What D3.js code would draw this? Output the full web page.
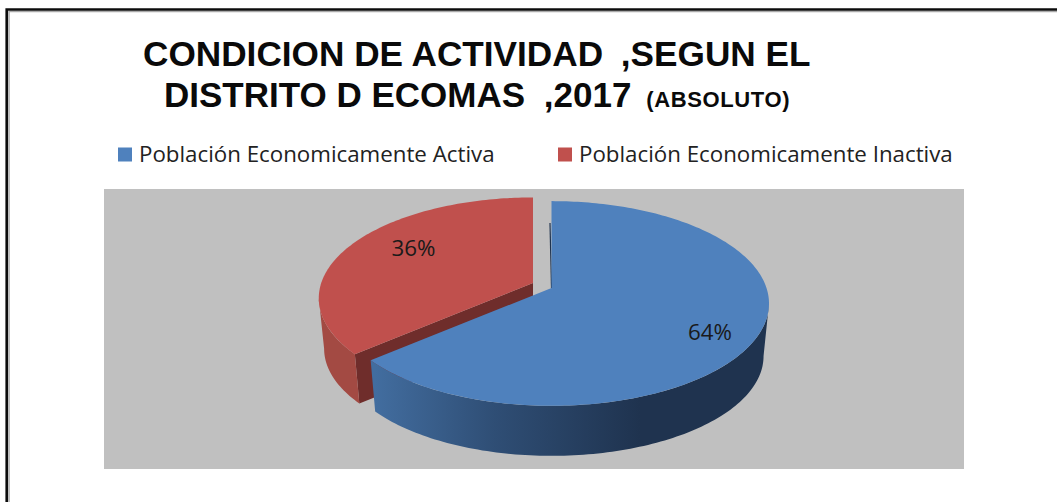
<!DOCTYPE html>
<html><head><meta charset="utf-8">
<script src="https://cdn.jsdelivr.net/npm/d3@7/dist/d3.min.js"></script>
<style>html,body{margin:0;padding:0;background:#fff;overflow:hidden}svg{display:block}</style>
</head><body><div id="chart"></div>
<script>
const titleLine1 = ["CONDICION DE ACTIVIDAD ", ",SEGUN EL"];
const titleLine2 = ["DISTRITO D ECOMAS ", ",2017"];
const titleSuffix = "(ABSOLUTO)";
const categories = ["Población Economicamente Activa", "Población Economicamente Inactiva"];
const values = [63.7, 36.3];
const colors = ["#4f81bd", "#c0504d"];

const W = 1057, H = 502;
const svg = d3.select("#chart").append("svg").attr("width", W).attr("height", H);
const defs = svg.append("defs");

// frame: only the top and left edges are inside the picture
const frame = svg.append("g").attr("fill","none");
frame.append("path").attr("d",`M${W},11.5H9V${H}`).attr("stroke","#aaa").attr("stroke-width",1.5);
frame.append("path").attr("d",`M${W},9.5H6.7V${H}`).attr("stroke","#0c0c0c").attr("stroke-width",2.6);

// titles
const font = "'Liberation Sans', Arial, sans-serif";
const t1 = svg.append("text").attr("x",143).attr("y",66).attr("font-family",font).attr("font-weight",700)
  .attr("font-size",35.2).attr("fill","#0a0a0a");
t1.append("tspan").text(titleLine1[0]);
t1.append("tspan").attr("dx",8).text(titleLine1[1]);
const t2 = svg.append("text").attr("x",164).attr("y",107).attr("font-family",font).attr("font-weight",700)
  .attr("font-size",35).attr("fill","#0a0a0a");
t2.append("tspan").text(titleLine2[0]);
t2.append("tspan").attr("dx",9).text(titleLine2[1]);
t2.append("tspan").attr("dx",15).attr("font-size",22).attr("letter-spacing",0.6).text(titleSuffix);

// legend
const legendX = [118, 558];
const legend = svg.append("g").selectAll("g").data(categories).join("g")
  .attr("transform",(d,i)=>`translate(${legendX[i]},147.5)`);
legend.append("rect").attr("width",14).attr("height",14).attr("fill",(d,i)=>colors[i]);
legend.append("text").attr("x",21).attr("y",14.5).attr("font-family","'Open Sans',sans-serif")
  .attr("font-size",22.3).attr("fill","#222").text(d=>d);

// plot area
svg.append("rect").attr("x",104).attr("y",189).attr("width",860).attr("height",280).attr("fill","#c0c0c0");

// pie with perspective projection
const pieGen = d3.pie().sort(null).value(d=>d);
const arcs = pieGen(values);
const R = 215, Ry = 100, k = 0.151, bottomScale = 0.975;
const offsets = [{x:551.5,y:288,scale:1,depth:53},{x:533,y:283,scale:0.985,depth:51}];
function project(theta, o, bottom){
  const u = Math.sin(theta), v = -Math.cos(theta), s = o.scale/(1-k*v), b = bottom?bottomScale:1;
  return [o.x + R*u*s*b, o.y + Ry*v*s*b + (bottom?o.depth:0)];
}
const tangentA = Math.acos(-k), tangentB = 2*Math.PI - tangentA;
function samples(a0,a1){
  const n = Math.max(2, Math.ceil(Math.abs(a1-a0)/0.02));
  return d3.range(n+1).map(i=>a0+(a1-a0)*i/n);
}
const line = d3.line();
function face(a,o){
  return line([[o.x,o.y],...samples(a.startAngle,a.endAngle).map(t=>project(t,o,false))])+"Z";
}
function wall(a0,a1,o){
  const s = samples(a0,a1);
  return line([...s.map(t=>project(t,o,false)),...s.slice().reverse().map(t=>project(t,o,true))])+"Z";
}
const grad = defs.append("linearGradient").attr("id","blueWall").attr("gradientUnits","userSpaceOnUse")
  .attr("x1",375).attr("x2",640).attr("y1",0).attr("y2",0);
grad.append("stop").attr("offset",0).attr("stop-color","#426d9f");
grad.append("stop").attr("offset",0.45).attr("stop-color","#2f4e75");
grad.append("stop").attr("offset",1).attr("stop-color","#1f334f");

const pie = svg.append("g");
// red slice
{
  const a = arcs[1], o = offsets[1];
  const c = project(a.startAngle,o,false), cb = project(a.startAngle,o,true);
  pie.append("path").attr("d",line([[o.x,o.y],c,cb,[o.x,o.y+o.depth]])+"Z").attr("fill","#6f2d2b");
  pie.append("path").attr("d",wall(a.startAngle,tangentB,o)).attr("fill","#a34a43");
  pie.append("path").attr("d",face(a,o)).attr("fill",colors[1]);
}
// blue slice
{
  const a = arcs[0], o = offsets[0];
  pie.append("line").attr("x1",o.x-1.5).attr("y1",o.y-65).attr("x2",o.x).attr("y2",o.y)
    .attr("stroke","#1f334f").attr("stroke-width",1.2);
  pie.append("path").attr("d",wall(tangentA,a.endAngle,o)).attr("fill","url(#blueWall)");
  pie.append("path").attr("d",face(a,o)).attr("fill",colors[0]);
}
// labels
const labelPos = [[710,340],[413.5,255.5]];
svg.append("g").selectAll("text").data(values).join("text")
  .attr("x",(d,i)=>labelPos[i][0]).attr("y",(d,i)=>labelPos[i][1]).attr("text-anchor","middle")
  .attr("font-family","'Open Sans',sans-serif").attr("font-size",22.3).attr("fill","#1a1a1a")
  .text(d=>Math.round(d)+"%");
</script></body></html>
